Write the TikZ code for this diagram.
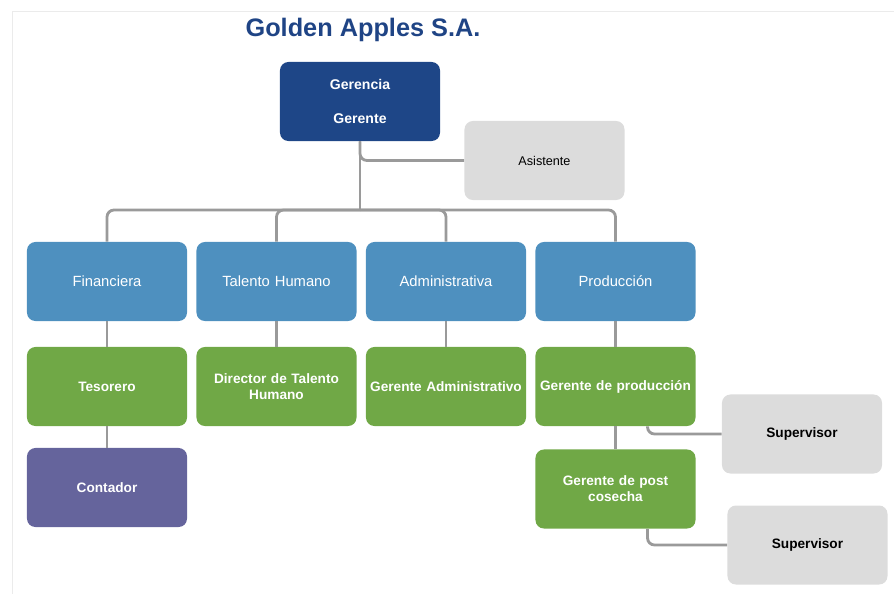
\documentclass[tikz,border=0pt]{standalone}
\usepackage{fontspec}
\setmainfont{Liberation Sans}
\usetikzlibrary{positioning}
\definecolor{gerblue}{HTML}{1E4687}
\definecolor{deptblue}{HTML}{4E90BF}
\definecolor{leafgreen}{HTML}{70A846}
\definecolor{contpurple}{HTML}{65649C}
\definecolor{boxgray}{HTML}{DCDCDC}
\definecolor{conngray}{HTML}{9A9A9A}
\definecolor{titleblue}{HTML}{1F4485}

\begin{document}
\begin{tikzpicture}[x=0.025cm,y=-0.025cm,
    box/.style = {rounded corners=6pt, minimum width=4cm, minimum height=1.975cm,
        text width=3.9cm, align=center, inner sep=0pt, text=white,
        font=\bfseries\fontsize{9.7}{11.5}\selectfont},
    head/.style = {box, fill=gerblue, font=\bfseries\fontsize{10}{11.5}\selectfont},
    dept/.style = {box, fill=deptblue, font=\fontsize{10.5}{12}\selectfont},
    leaf/.style = {box, fill=leafgreen},
    aide/.style = {box, fill=boxgray, text=black},
    conn/.style = {line width=2pt, draw=conngray, rounded corners=5pt}]
\useasboundingbox (0,0) rectangle (894,594);
% faint page edge
\draw[black!8, line width=0.6pt] (12,594) |- (894,11);
% title
\node[font=\bfseries\fontsize{18}{20}\selectfont, text=titleblue] (title) at (363,30) {Golden Apples S.A.};
% top level
\node[head] (ger) at (360,101.5) {Gerencia\\[13pt]Gerente};
\node[aide, font=\fontsize{9}{11}\selectfont] (asi) at (544.5,160.5) {Asistente};
% departments
\node[dept] (fin) at (107,281.5) {Financiera};
\node[dept] (tal) at (276.5,281.5) {Talento Humano};
\node[dept] (adm) at (446,281.5) {Administrativa};
\node[dept] (pro) at (615.5,281.5) {Producción};
% managers
\node[leaf] (tes) at (107,386.5) {Tesorero};
\node[leaf] (dir) at (276.5,386.5) {Director de Talento\\Humano};
\node[leaf] (gad) at (446,386.5) {Gerente Administrativo};
\node[leaf] (gpr) at (615.5,386.5) {Gerente de producción};
\node[box, fill=contpurple] (con) at (107,487.5) {Contador};
\node[leaf] (gpc) at (615.5,489) {Gerente de post\\cosecha};
\node[aide] (sup1) at (802,434) {Supervisor};
\node[aide] (sup2) at (807.5,545) {Supervisor};
% connectors
\coordinate (bus) at (360,210);
\draw[conn] (ger.south) |- (asi.west);
\draw[conn] (ger.south) -- (bus);
\foreach \d in {fin,tal,adm,pro}
    \draw[conn] (bus) -| (\d.north);
\draw[conn] (fin) -- (tes);
\draw[conn] (tal) -- (dir);
\draw[conn] (adm) -- (gad);
\draw[conn] (pro) -- (gpr);
\draw[conn] (tes) -- (con);
\draw[conn] (gpr) -- (gpc);
\draw[conn] ([xshift=0.8cm]gpr.south) |- (sup1.west);
\draw[conn] ([xshift=0.8cm]gpc.south) |- (sup2.west);
\end{tikzpicture}
\end{document}
